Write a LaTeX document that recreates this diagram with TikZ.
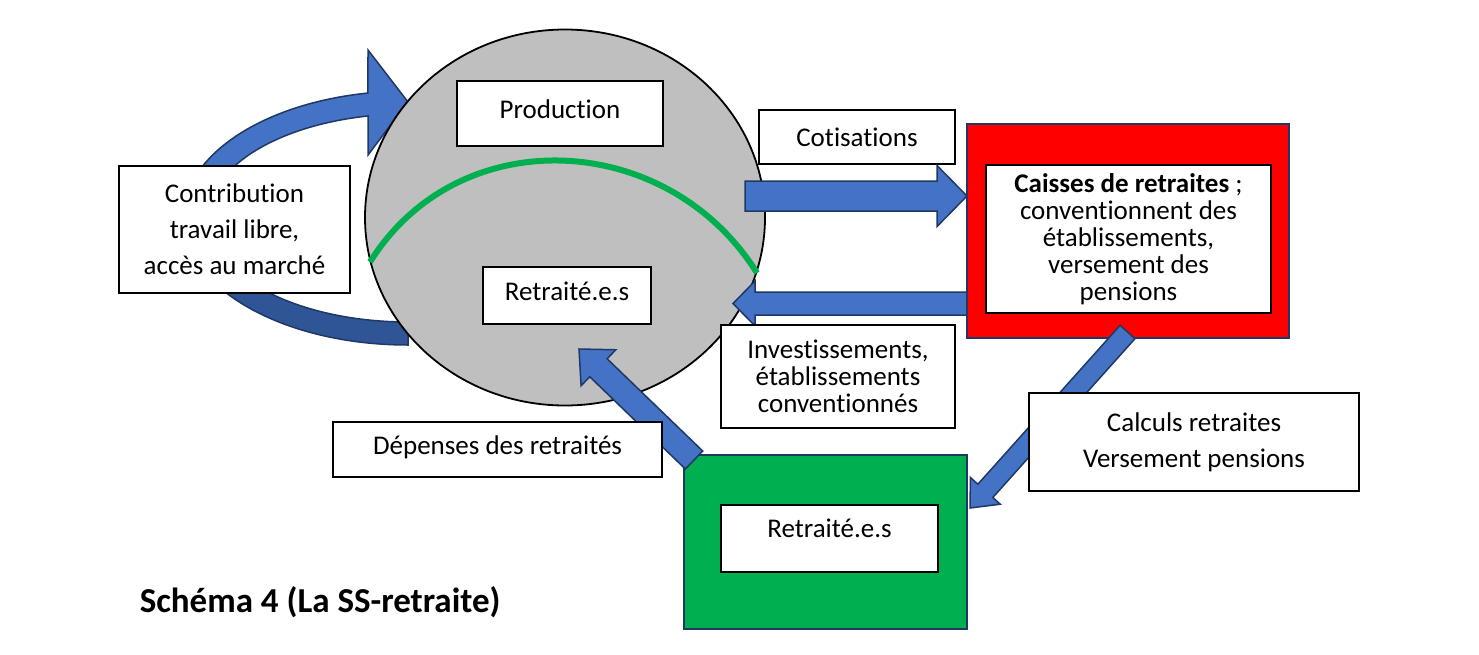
\documentclass[tikz,border=0pt]{standalone}
\usepackage{fontspec}
\setmainfont{Carlito}[Ligatures=NoCommon]
\usetikzlibrary{calc,shapes.geometric}
\tikzset{every picture/.style={line width=1.5pt}}

\definecolor{arrowblue}{RGB}{68,114,196}
\definecolor{arrowdark}{RGB}{47,85,151}
\definecolor{arrowline}{RGB}{31,56,100}
\definecolor{circlegray}{RGB}{191,191,191}
\definecolor{boxred}{RGB}{255,0,0}
\definecolor{boxgreen}{RGB}{0,176,80}

\tikzset{
  txtbox/.style={draw, fill=white, line width=1.5pt, align=center, inner sep=0pt,
    font=\fontsize{27}{27}\selectfont},
  wideline/.style={font=\fontsize{27}{36}\selectfont},
  blockarr/.style={fill=arrowblue, draw=arrowline, line width=1.5pt, line join=miter},
  framebox/.style={draw=arrowline, line width=1.5pt, inner sep=0pt}
}

% block arrow: tail, tip, body half width, head half width, head length
\newcommand{\blockarrow}[5]{%
  \coordinate (hb) at ($(#2)!#5pt!(#1)$);
  \filldraw[blockarr] ($(#1)!#3pt!90:(#2)$) -- ($(hb)!#3pt!90:(#2)$) -- ($(hb)!#4pt!90:(#2)$) -- (#2)
    -- ($(hb)!#4pt!-90:(#2)$) -- ($(hb)!#3pt!-90:(#2)$) -- ($(#1)!#3pt!-90:(#2)$) -- cycle;
}

\begin{document}
\begin{tikzpicture}[x=1pt,y=1pt,yscale=-1,xscale=1]
\useasboundingbox (0,0) rectangle (1479,654);

%Curved arrow, lower part
\filldraw[fill=arrowdark, draw=arrowline] (408,345) arc[start angle=90, end angle=180, x radius=225, y radius=127]
  -- (208,218) arc[start angle=180, end angle=90, x radius=200, y radius=104] -- cycle;
%Curved arrow, upper part with head
\filldraw[blockarr] (183,218) arc[start angle=180, end angle=259.75, x radius=225, y radius=127]
  -- (368,50) -- (408,102) -- (368,155) -- (368,116)
  arc[start angle=258.46, end angle=180, x radius=200, y radius=104] -- cycle;

%Shape: Ellipse
\node[draw=black, fill=circlegray, ellipse, line width=1.8pt, minimum width=400, minimum height=376] (eco) at (565,217.5) {};
%Curve Lines
\draw[boxgreen, line width=6pt] (370,262) .. controls (459,119.5) and (668,130.5) .. (757,273);

% Text Node
\node[txtbox, minimum width=206, minimum height=65] (prod) at (560,113.5) {Production\strut};
% Text Node
\node[txtbox, minimum width=168, minimum height=57] (retr) at (567,295.5) {Retraité.e.s\strut};
% Text Node
\node[txtbox, wideline, minimum width=231, minimum height=127] (contrib) at (234.5,229.5) {Contribution\\ travail libre,\\ accès au marché};
% Text Node
\node[txtbox, minimum width=196, minimum height=54] (cotis) at (857,137) {Cotisations};

%Block arrows to and from the caisses
\coordinate (cotA) at (745,196);
\coordinate (cotB) at (967,196);
\blockarrow{cotA}{cotB}{15}{30.5}{30}
\coordinate (invA) at (967,303.5);
\coordinate (invB) at (733,303.5);
\blockarrow{invA}{invB}{11.5}{22.5}{22}

%Shape: Rectangle
\node[framebox, fill=boxred, minimum width=322, minimum height=214] (caisse) at (1128,231) {};
% Text Node
\node[txtbox, minimum width=285, minimum height=148] (caissetxt) at (1128.5,239) {\textbf{Caisses de retraites} ;\\ conventionnent des\\ établissements,\\ versement des\\ pensions};

%Block arrow to the retraités
\coordinate (calA) at (1127.5,332);
\coordinate (calB) at (970,508);
\blockarrow{calA}{calB}{10}{20}{23}
% Text Node
\node[txtbox, wideline, minimum width=330, minimum height=98] (calc) at (1194,442) {Calculs retraites\\ Versement pensions};

%Shape: Rectangle
\node[framebox, fill=boxgreen, minimum width=283, minimum height=174] (green) at (825.5,542) {};
% Text Node
\node[txtbox, minimum width=217, minimum height=67, text depth=20pt] (retr2) at (829.5,538.5) {Retraité.e.s};

%Block arrow back to the circle
\coordinate (depA) at (694,460);
\coordinate (depB) at (579,349);
\blockarrow{depA}{depB}{12.5}{25}{27}
% Text Node
\node[txtbox, minimum width=329, minimum height=55] (dep) at (497.5,449.5) {Dépenses des retraités\strut};
% Text Node
\node[txtbox, minimum width=234, minimum height=103] (invest) at (838,376.5) {Investissements,\\ établissements\\ conventionnés};

% Text Node
\node[anchor=base west, inner sep=0pt, font=\bfseries\fontsize{35}{40}\selectfont] (titre) at (139,612) {Schéma 4 (La SS-retraite)};

\end{tikzpicture}
\end{document}
